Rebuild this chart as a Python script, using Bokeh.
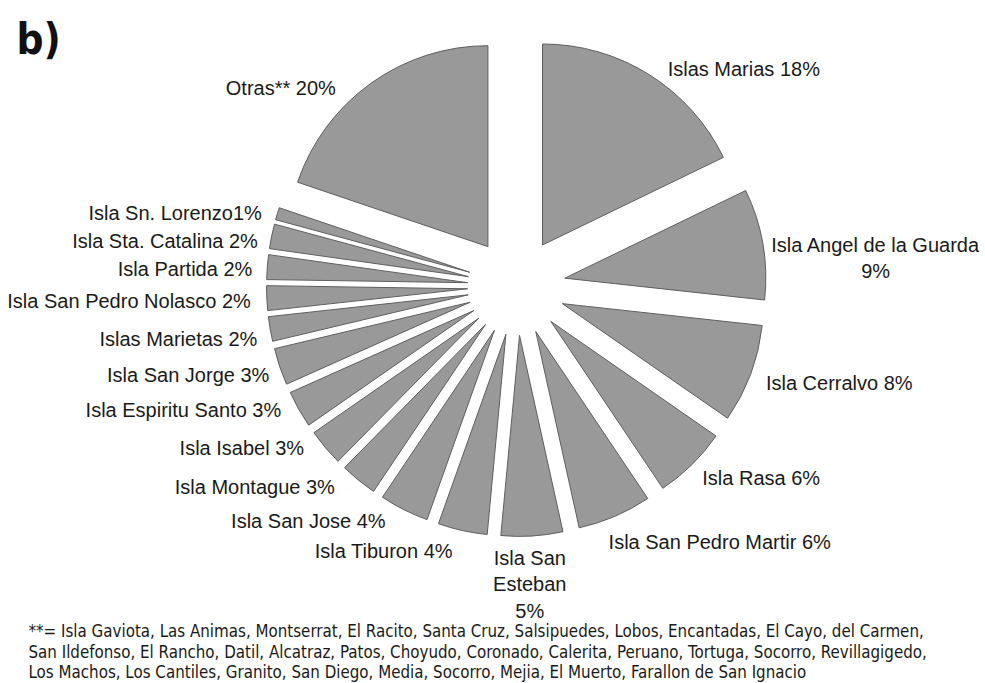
import math
from bokeh.plotting import figure
from bokeh.models import Range1d, ColumnDataSource
from bokeh.core.properties import value
from bokeh.embed import file_html
from bokeh.resources import INLINE

# ---- data ----
islands = ["Islas Marias", "Isla Angel de la Guarda", "Isla Cerralvo", "Isla Rasa",
           "Isla San Pedro Martir", "Isla San Esteban", "Isla Tiburon", "Isla San Jose",
           "Isla Montague", "Isla Isabel", "Isla Espiritu Santo", "Isla San Jorge",
           "Islas Marietas", "Isla San Pedro Nolasco", "Isla Partida",
           "Isla Sta. Catalina", "Isla Sn. Lorenzo", "Otras**"]
percent = [18, 9, 8, 6, 6, 5, 4, 4, 3, 3, 3, 3, 2, 2, 2, 2, 1, 20]
label_texts = ["Islas Marias 18%", "Isla Angel de la Guarda\n9%", "Isla Cerralvo 8%",
               "Isla Rasa 6%", "Isla San Pedro Martir 6%", "Isla San\nEsteban\n5%",
               "Isla Tiburon 4%", "Isla San Jose 4%", "Isla Montague 3%", "Isla Isabel 3%",
               "Isla Espiritu Santo 3%", "Isla San Jorge 3%", "Islas Marietas 2%",
               "Isla San Pedro Nolasco 2%", "Isla Partida 2%", "Isla Sta. Catalina 2%",
               "Isla Sn. Lorenzo1%", "Otras** 20%"]
footnote = ["**= Isla Gaviota, Las Animas, Montserrat, El Racito, Santa Cruz, Salsipuedes, Lobos, Encantadas, El Cayo, del Carmen,",
            "San Ildefonso, El Rancho, Datil, Alcatraz, Patos, Choyudo, Coronado, Calerita, Peruano, Tortuga, Socorro, Revillagigedo,",
            "Los Machos, Los Cantiles, Granito, San Diego, Media, Socorro, Mejia, El Muerto, Farallon de San Ignacio"]
panel_tag = "b)"

# ---- layout / style ----
W, H = 985, 683
CX, CY = 516, 286          # pie centre in screen pixels
R = 201                    # pie radius (px)
EXPLODE = 49               # radial offset of every slice (px)
LAB_R = R + EXPLODE + 12
# per-label (align, baseline, dx, dy) in screen px
label_layout = [("left", "middle", 12, 4), ("center", "top", 101, -8), ("left", "middle", 4, 5),
                ("left", "middle", 2, 5), ("left", "middle", -11, 15), ("center", "top", -3, -1),
                ("right", "middle", -7, 9), ("right", "middle", -13, 1), ("right", "middle", -16, -3),
                ("right", "middle", -12, -7), ("right", "middle", -7, -5), ("right", "middle", 1, 4),
                ("right", "middle", -1, 8), ("right", "middle", -4, 2), ("right", "middle", -3, 3),
                ("right", "middle", -2, 7), ("right", "middle", -4, 3), ("right", "middle", -28, 14)]

p = figure(width=W, height=H, output_backend="svg", toolbar_location=None,
           x_range=Range1d(-CX, W - CX), y_range=Range1d(-(H - CY), CY),
           x_axis_type=None, y_axis_type=None, min_border=0,
           outline_line_color=None, background_fill_color="white")
p.grid.visible = False

total = float(sum(percent))
cum = 0.0
xs, ys, starts, ends = [], [], [], []
lx, ly = [], []
for v in percent:
    a_hi = math.pi / 2 - cum / total * 2 * math.pi
    a_lo = math.pi / 2 - (cum + v) / total * 2 * math.pi
    mid = (a_hi + a_lo) / 2
    xs.append(EXPLODE * math.cos(mid))
    ys.append(EXPLODE * math.sin(mid))
    starts.append(a_lo)
    ends.append(a_hi)
    lx.append(LAB_R * math.cos(mid))
    ly.append(LAB_R * math.sin(mid))
    cum += v

src = ColumnDataSource(dict(x=xs, y=ys, start=starts, end=ends, name=islands, pct=percent))
p.wedge(x="x", y="y", radius=R, start_angle="start", end_angle="end", source=src,
        fill_color="#999999", line_color="#5f5f5f", line_width=1)

for i, t in enumerate(label_texts):
    al, bl, dx, dy = label_layout[i]
    p.text(x=[lx[i] + dx], y=[ly[i] - dy], text=[t], text_align=al, text_baseline=bl,
           text_font=value("Liberation Sans"), text_font_size="20px", text_color="#1a1a1a",
           text_line_height=1.2)

# panel tag
p.text(x=[16 - CX], y=[CY - 14], text=[panel_tag], text_align="left", text_baseline="top",
       text_font=value("DejaVu Sans Condensed"), text_font_style="bold",
       text_font_size="42px", text_color="#111111")

# footnote
p.text(x=[28 - CX] * 3, y=[CY - 630, CY - 651, CY - 671], text=footnote,
       text_align="left", text_baseline="middle",
       text_font=value("DejaVu Sans Condensed"), text_font_size="16.8px",
       text_color="#1a1a1a")

open("out.html", "w").write(file_html(p, INLINE))
